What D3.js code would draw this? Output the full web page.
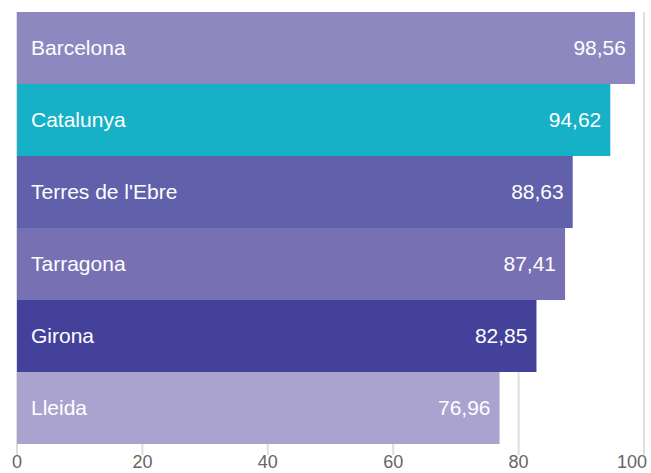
<!DOCTYPE html>
<html>
<head>
<meta charset="utf-8">
<script src="https://cdn.jsdelivr.net/npm/d3@7"></script>
<style>
  body { margin: 0; background: #fff; }
  svg text { font-family: "Liberation Sans", Arial, Helvetica, sans-serif; }
</style>
</head>
<body>
<div id="chart"></div>
<script>
// Data
const regions = ['Barcelona', 'Catalunya', "Terres de l'Ebre", 'Tarragona', 'Girona', 'Lleida'];
const values = [98.56, 94.62, 88.63, 87.41, 82.85, 76.96];
const colors = ['#8e88c1', '#17b1c7', '#6160aa', '#7771b4', '#43419a', '#aaa3cf'];
const ticks = [0, 20, 40, 60, 80, 100];

const width = 651, height = 473;
const margin = { top: 12, right: 7, bottom: 29, left: 17 };

const svg = d3.select('#chart')
    .append('svg')
    .attr('width', width)
    .attr('height', height);

const x = d3.scaleLinear()
    .domain([0, 100])
    .range([margin.left, width - margin.right]);

const y = d3.scaleBand()
    .domain(regions)
    .range([margin.top, height - margin.bottom])
    .padding(0);

const fmt = d3.formatLocale({ decimal: ',', thousands: '.', grouping: [3], currency: ['', '€'] }).format('.2f');

// Gridlines + ticks
svg.append('g')
    .selectAll('line')
    .data(ticks)
    .enter()
    .append('line')
    .attr('x1', d => x(d))
    .attr('x2', d => x(d))
    .attr('y1', margin.top)
    .attr('y2', height - margin.bottom + 11)
    .style('stroke', '#dedede')
    .style('stroke-width', 2);

// Tick labels
svg.append('g')
    .selectAll('text')
    .data(ticks)
    .enter()
    .append('text')
    .attr('x', (d, i) => i === ticks.length - 1 ? x(d) + 3 : x(d))
    .attr('y', 468)
    .style('text-anchor', (d, i) => i === ticks.length - 1 ? 'end' : 'middle')
    .style('font-size', '18px')
    .style('fill', '#666')
    .text(d => d);

// Bars
const bar = svg.append('g')
    .selectAll('g')
    .data(regions)
    .enter()
    .append('g');

bar.append('rect')
    .attr('x', x(0))
    .attr('y', d => y(d))
    .attr('width', (d, i) => x(values[i]) - x(0))
    .attr('height', y.bandwidth())
    .style('fill', (d, i) => colors[i]);

bar.append('text')
    .attr('x', x(0) + 14)
    .attr('y', d => y(d) + y.bandwidth() / 2)
    .attr('dy', '0.35em')
    .style('font-size', '21px')
    .style('fill', '#fff')
    .text(d => d);

bar.append('text')
    .attr('x', (d, i) => x(values[i]) - 9)
    .attr('y', d => y(d) + y.bandwidth() / 2)
    .attr('dy', '0.35em')
    .style('text-anchor', 'end')
    .style('font-size', '21px')
    .style('fill', '#fff')
    .text((d, i) => fmt(values[i]));
</script>
</body>
</html>
